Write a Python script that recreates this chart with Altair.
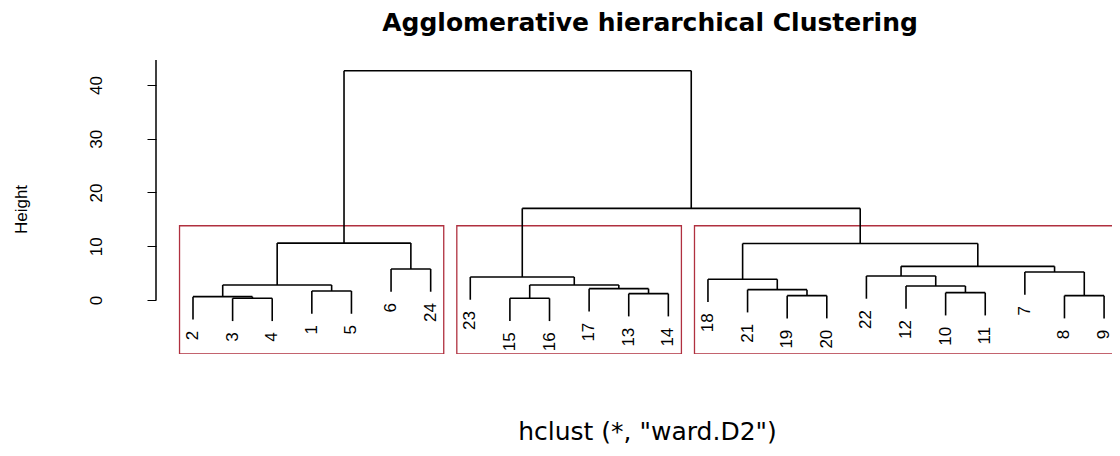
import altair as alt
import pandas as pd

# Leaf labels in dendrogram order (left to right)
leaf_order = ["2", "3", "4", "1", "5", "6", "24", "23", "15", "16", "17", "13",
              "14", "18", "21", "19", "20", "22", "12", "10", "11", "7", "8", "9"]

# hclust-style merge table: negative = leaf label, positive = earlier merge (1-based)
merge_left = [-3, -15, -2, -19, -8, -13, -10, -1, -21, -17, -12, 3, 2, -18, -23, -22, -7, -6, 16, 12, 14, 15, 20]
merge_right = [-4, -16, 1, -20, -9, -14, -11, -5, 4, 6, 7, 8, 10, 9, 13, 11, 5, -24, 17, 18, 19, 21, 22]
merge_height = [0.31, 0.31, 0.62, 0.81, 0.81, 1.18, 1.36, 1.67, 1.92, 2.11, 2.60, 2.79,
                2.79, 3.85, 4.28, 4.47, 5.21, 5.77, 6.26, 10.58, 10.50, 17.05, 42.66]

y_ticks = [0, 10, 20, 30, 40]
n_clusters = 3

title_text = "Agglomerative hierarchical Clustering"
xlab_text = 'hclust (*, "ward.D2")'
ylab_text = "Height"

# ---------------------------------------------------------------- layout
X_DOMAIN = [0.066, 24.20]
Y_DOMAIN = [-10.05, 44.65]
PLOT_W, PLOT_H = 956, 294

pos = {lab: i + 1 for i, lab in enumerate(leaf_order)}
hang = 0.1 * (max(merge_height) - min(merge_height))
label_gap = 2.1

node_x, node_h = {}, {}
segs, leaves = [], []
for k, (a, b, h) in enumerate(zip(merge_left, merge_right, merge_height), start=1):
    xs = []
    for c in (a, b):
        if c < 0:
            lab = str(-c)
            cx = pos[lab]
            bottom = h - hang
            segs.append(dict(x=cx, x2=cx, y=bottom, y2=h))
            leaves.append(dict(x=cx, y=bottom - label_gap, label=lab))
        else:
            cx = node_x[c]
            segs.append(dict(x=cx, x2=cx, y=node_h[c], y2=h))
        xs.append(cx)
    segs.append(dict(x=xs[0], x2=xs[1], y=h, y2=h))
    node_x[k] = (xs[0] + xs[1]) / 2
    node_h[k] = h

# cluster rectangles (as rect.hclust)
sorted_h = sorted(merge_height, reverse=True)
cut = (sorted_h[n_clusters - 2] + sorted_h[n_clusters - 1]) / 2


def leaf_positions(c):
    if c < 0:
        return [pos[str(-c)]]
    return leaf_positions(merge_left[c - 1]) + leaf_positions(merge_right[c - 1])


def clusters(c):
    if c < 0 or merge_height[c - 1] < cut:
        p = leaf_positions(c)
        return [(min(p), max(p))]
    return clusters(merge_left[c - 1]) + clusters(merge_right[c - 1])


rects = [dict(x=lo - 0.34, x2=hi + 0.33, y=Y_DOMAIN[0], y2=cut)
         for lo, hi in clusters(len(merge_height))]

seg_df = pd.DataFrame(segs)
leaf_df = pd.DataFrame(leaves)
rect_df = pd.DataFrame(rects)
axis_df = pd.DataFrame([dict(x=X_DOMAIN[0], y=0, y2=Y_DOMAIN[1])])

xs_ = alt.Scale(domain=X_DOMAIN, nice=False, zero=False)
ys_ = alt.Scale(domain=Y_DOMAIN, nice=False, zero=False)

x_axis = alt.Axis(labels=False, ticks=False, domain=False, grid=False,
                  title=xlab_text, titleFont="DejaVu Sans", titleFontSize=25,
                  titleFontWeight="normal", titleColor="#000000",
                  titleAlign="center", titleBaseline="alphabetic",
                  titleX=491, titleY=85)
y_axis = alt.Axis(values=y_ticks, format="d", domain=False, grid=False,
                  ticks=True, tickSize=9, tickColor="#000000", tickWidth=1,
                  labelAngle=270, labelAlign="center", labelBaseline="bottom",
                  labelPadding=42, labelFont="Liberation Sans", labelFontSize=17,
                  labelColor="#000000",
                  title=ylab_text, titleFont="Liberation Sans", titleFontSize=17,
                  titleFontWeight="normal", titleColor="#000000", titleAngle=270,
                  titleAlign="center", titleBaseline="middle",
                  titleX=-135, titleY=149)


def X(f):
    return alt.X(f, type="quantitative", scale=xs_, axis=x_axis)


def Y(f):
    return alt.Y(f, type="quantitative", scale=ys_, axis=y_axis)


tree = alt.Chart(seg_df).mark_rule(color="#000000", strokeWidth=1.6).encode(
    x=X("x"), x2="x2", y=Y("y"), y2="y2")

boxes = alt.Chart(rect_df).mark_rect(
    fillOpacity=0, stroke="#b0303f", strokeWidth=1.3, clip=True).encode(
    x=X("x"), x2="x2", y=Y("y"), y2="y2")

labels = alt.Chart(leaf_df).mark_text(
    angle=270, align="right", baseline="middle", font="Liberation Sans",
    fontSize=17, color="#000000").encode(
    x=X("x"), y=Y("y"), text="label")

yline = alt.Chart(axis_df).mark_rule(color="#000000", strokeWidth=1.5).encode(
    x=X("x"), y=Y("y"), y2="y2")

chart = alt.layer(boxes, tree, labels, yline).properties(
    width=PLOT_W, height=PLOT_H,
    title=alt.TitleParams(title_text, font="DejaVu Sans", fontSize=25,
                          fontWeight="bold", color="#000000", anchor="middle",
                          frame="group", baseline="alphabetic", offset=3, dx=16),
    autosize=alt.AutoSizeParams(type="none"),
    padding={"left": 148, "top": 52, "right": 0, "bottom": 90},
    background="#ffffff",
).configure_view(stroke=None)

chart.save("out.html", embed_options={"renderer": "svg", "actions": False})
